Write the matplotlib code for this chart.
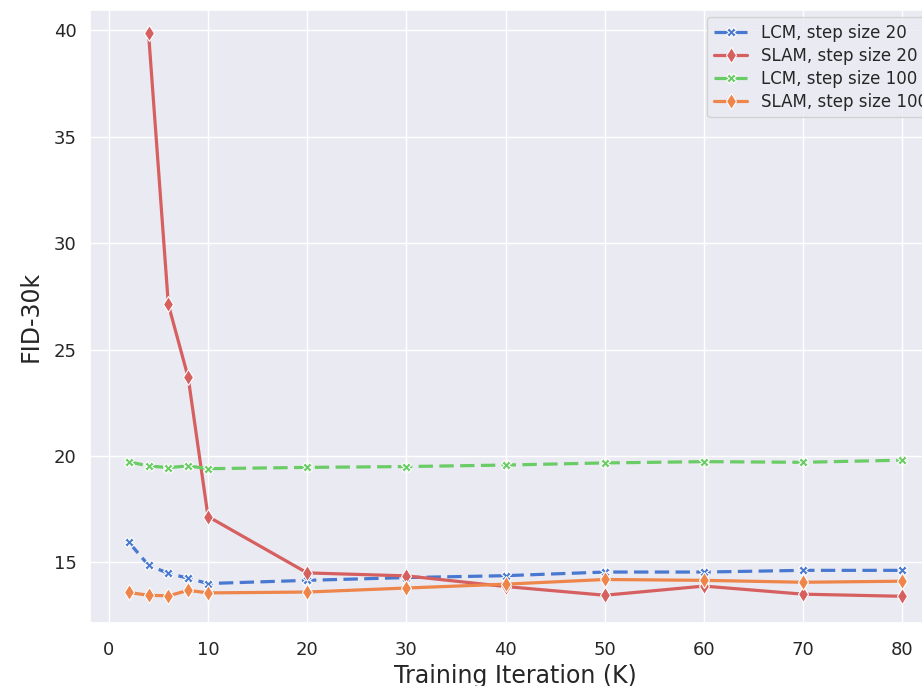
import matplotlib
matplotlib.use("Agg")
import matplotlib.pyplot as plt
import seaborn as sns

iters = [2, 4, 6, 8, 10, 20, 30, 40, 50, 60, 70, 80]

lcm_20 = [15.95, 14.86, 14.48, 14.25, 14.00, 14.15, 14.28, 14.37, 14.54, 14.54, 14.62, 14.62]
slam_20_x = [4, 6, 8, 10, 20, 30, 40, 50, 60, 70, 80]
slam_20 = [39.9, 27.12, 23.69, 17.15, 14.50, 14.36, 13.86, 13.45, 13.88, 13.50, 13.40]
lcm_100 = [19.72, 19.53, 19.45, 19.53, 19.40, 19.46, 19.50, 19.57, 19.67, 19.73, 19.70, 19.80]
slam_100 = [13.58, 13.45, 13.42, 13.68, 13.56, 13.60, 13.79, 13.97, 14.19, 14.15, 14.06, 14.11]

sns.set_theme(style="darkgrid", palette="muted")
pal = sns.color_palette("muted")

fig = plt.figure(figsize=(9.22, 6.86), dpi=100)
ax = fig.add_axes([0.0976, 0.092, 0.923, 0.893])

dash = (4.5, 2)
ax.plot(iters, lcm_20, color=pal[0], marker="X", markersize=7, dashes=dash,
        markeredgecolor="white", markeredgewidth=0.8, lw=2.3, label="LCM, step size 20")
ax.plot(slam_20_x, slam_20, "-", color=pal[3], marker="d", markersize=8,
        markeredgecolor="white", markeredgewidth=0.8, lw=2.3, label="SLAM, step size 20")
ax.plot(iters, lcm_100, color=pal[2], marker="X", markersize=7, dashes=dash,
        markeredgecolor="white", markeredgewidth=0.8, lw=2.3, label="LCM, step size 100")
ax.plot(iters, slam_100, "-", color=pal[1], marker="d", markersize=8,
        markeredgecolor="white", markeredgewidth=0.8, lw=2.3, label="SLAM, step size 100")

ax.set_xlim(-1.9, 83.9)
ax.set_ylim(12.15, 40.95)
ax.set_xticks([0, 10, 20, 30, 40, 50, 60, 70, 80])
ax.set_yticks([15, 20, 25, 30, 35, 40])
ax.tick_params(labelsize=13)
ax.tick_params(axis="x", pad=7)
ax.set_xlabel("Training Iteration (K)", fontsize=17, labelpad=4)
ax.set_ylabel("FID-30k", fontsize=17, labelpad=8)
ax.legend(loc="upper right", fontsize=12, handlelength=2, labelspacing=0.3,
          borderaxespad=0.4)

fig.savefig("out.png", dpi=100)
